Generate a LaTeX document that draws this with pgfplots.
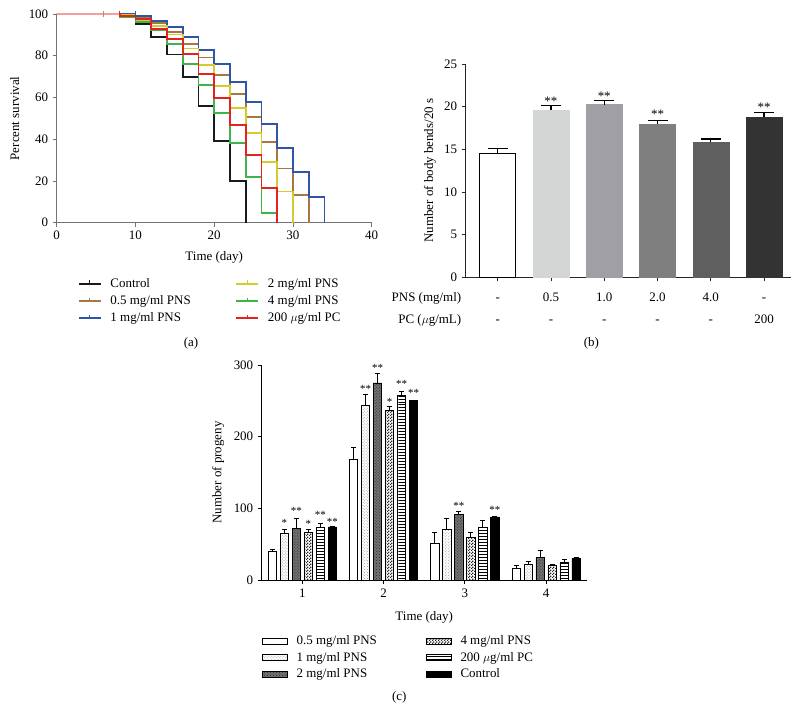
\documentclass[border=0pt]{standalone}
\usepackage{fontspec}
\setmainfont{Liberation Serif}
\usepackage{pgfplots}
\pgfplotsset{compat=1.18}
\usetikzlibrary{patterns}
\AtBeginDocument{\fontsize{13}{15.6}\selectfont}

\definecolor{cBlack}{HTML}{1A1A1A}
\definecolor{cBrown}{HTML}{A8763E}
\definecolor{cBlue}{HTML}{2F56A6}
\definecolor{cYellow}{HTML}{D2CC2C}
\definecolor{cGreen}{HTML}{3DB54A}
\definecolor{cRed}{HTML}{E42320}
\definecolor{cPink}{HTML}{F0A0A0}
\definecolor{bA}{HTML}{D4D5D5}
\definecolor{bB}{HTML}{A0A0A4}
\definecolor{bC}{HTML}{7F7F7F}
\definecolor{bD}{HTML}{5F5F5F}
\definecolor{bE}{HTML}{333333}

\pgfdeclarepatternformonly{finecheck}{\pgfpointorigin}{\pgfqpoint{3bp}{3bp}}{\pgfqpoint{3bp}{3bp}}{%
  \pgfpathrectangle{\pgfpointorigin}{\pgfqpoint{1.5bp}{1.5bp}}%
  \pgfpathrectangle{\pgfqpoint{1.5bp}{1.5bp}}{\pgfqpoint{1.5bp}{1.5bp}}%
  \pgfusepath{fill}}

\pgfplotsset{
  base/.style={scale only axis, anchor=south west, axis lines*=left,
    tick align=outside, major tick length=4bp,
    /pgf/number format/assume math mode=true, clip=false,
    every axis y label/.style={rotate=90, anchor=center},
    every axis x label/.style={anchor=center}},
}

\begin{document}
\begin{tikzpicture}
\useasboundingbox (0,0) rectangle (799bp,725bp);

% ---------------- (a) survival ----------------
\begin{axis}[base, at={(56.7bp,502.3bp)}, width=315bp, height=208.7bp,
  xmin=0, xmax=40, ymin=0, ymax=100,
  xtick={0,10,20,30,40}, ytick={0,20,40,60,80,100},
  axis line style={draw=black!55, line width=0.9pt},
  tick style={black!55, line width=0.9pt},
  xlabel={Time (day)}, ylabel={Percent survival},
  x label style={at={(axis description cs:0.5,-0.1675)}},
  y label style={at={(axis description cs:-0.133,0.5)}},
  legend columns=3, transpose legend,
  legend style={draw=none, fill=none, at={(axis description cs:0.067,-0.266)},
    anchor=north west, inner sep=0pt, row sep=6.2bp, column sep=0bp,
    nodes={inner sep=0pt}, cells={anchor=west}},
  legend image code/.code={\draw[#1,line width=1.5pt] (0bp,0bp) -- (22bp,0bp);
    \draw[#1,line width=1pt] (11bp,0bp) -- (11bp,3.5bp);}]
\addplot[cBlack, const plot, line width=1.8bp] coordinates {(0,100)(8,98.7)(10,95.3)(12,88.8)(14,80.6)(16,70)(18,55.9)(20,39.3)(22,19.8)(24,0)};
\addlegendentry{\hspace*{9bp}\makebox[125bp][l]{Control}}
\addplot[cBrown, const plot, line width=1.8bp] coordinates {(0,100)(10,98.7)(12,95.8)(14,91.5)(16,85.5)(18,79.2)(20,70.6)(22,61.5)(24,50.8)(26,38.8)(28,26)(30,13.3)(32,0)};
\addlegendentry{\hspace*{9bp}\makebox[125bp][l]{0.5 mg/ml PNS}}
\addplot[cBlue, const plot, line width=1.8bp] coordinates {(0,100)(10,99.2)(12,96.8)(14,93.9)(16,88.8)(18,82.7)(20,75.9)(22,67.6)(24,58)(26,47.3)(28,35.6)(30,24.4)(32,12.2)(34,0)};
\addlegendentry{\hspace*{9bp}\makebox[125bp][l]{1 mg/ml PNS}}
\addplot[cYellow, const plot, line width=1.8bp] coordinates {(0,100)(8,99.5)(10,97.1)(12,94.2)(14,90.2)(16,83.5)(18,75.5)(20,65.5)(22,55.1)(24,43.1)(26,29.2)(28,14.9)(30,0)};
\addlegendentry{\hspace*{9bp}2 mg/ml PNS}
\addplot[cGreen, const plot, line width=1.8bp] coordinates {(0,100)(8,98.5)(10,96)(12,92.3)(14,85.5)(16,76)(18,66)(20,52.4)(22,38)(24,22)(26,4.5)(28,0)};
\addlegendentry{\hspace*{9bp}4 mg/ml PNS}
\addplot[cRed, const plot, line width=1.8bp] coordinates {(0,100)(8,99)(10,97.5)(12,93)(14,87.9)(16,80.7)(18,71.2)(20,59.9)(22,46.8)(24,32.4)(26,16.5)(28,0)};
\addlegendentry{\hspace*{9bp}200 $\mu$g/ml PC}
\addplot[cPink, forget plot, line width=1.8bp] coordinates {(0,100)(8,100)};
\addplot[only marks, mark=|, mark size=3bp, cBrown!60!cPink, forget plot, mark options={line width=1bp}] coordinates {(6,100)};
\addplot[only marks, mark=|, mark size=3bp, cRed, forget plot, mark options={line width=1bp}] coordinates {(8,100)};
\addplot[only marks, mark=|, mark size=3bp, cBlue, forget plot, mark options={line width=1bp}] coordinates {(10,100)};
\end{axis}
\node at (191bp,382bp) {(a)};

% ---------------- (b) body bends ----------------
\begin{axis}[base, at={(465.7bp,447.7bp)}, width=325bp, height=213.3bp,
  xmin=-0.6, xmax=5.5, ymin=0, ymax=25,
  ytick={0,5,10,15,20,25}, xtick={0,1,2,3,4,5},
  xticklabels={-,0.5,1.0,2.0,4.0,-},
  xticklabel style={text height=9bp, text depth=0pt, yshift=-7bp},
  axis line style={draw=black!85, line width=0.9pt},
  tick style={black!85, line width=0.9pt},
  ylabel={Number of body bends/20 s},
  y label style={at={(axis description cs:-0.11,0.5)}},
  ybar, bar width=36bp, bar shift=0bp,
  error bars/y dir=plus, error bars/y explicit,
  error bars/error mark options={rotate=90, mark size=10bp, line width=1.2bp, black},
  error bars/error bar style={line width=1.2bp, black}]
\addplot[fill=white, draw=black, line width=1bp] coordinates {(0,14.5) +- (0,0.6)};
\addplot[fill=bA, draw=bA] coordinates {(1,19.57) +- (0,0.55)};
\addplot[fill=bB, draw=bB] coordinates {(2,20.23) +- (0,0.5)};
\addplot[fill=bC, draw=bC] coordinates {(3,18.0) +- (0,0.4)};
\addplot[fill=bD, draw=bD] coordinates {(4,15.8) +- (0,0.42)};
\addplot[fill=bE, draw=bE] coordinates {(5,18.75) +- (0,0.58)};
\node[anchor=base] at (axis cs:1,20.11) {**};
\node[anchor=base] at (axis cs:2,20.77) {**};
\node[anchor=base] at (axis cs:3,18.66) {**};
\node[anchor=base] at (axis cs:5,19.44) {**};
\node[anchor=base east] at (axis cs:-0.6,-2.86) {PNS (mg/ml)};
\node[anchor=base east] at (axis cs:-0.6,-5.39) {PC ($\mu$g/mL)};
\node[anchor=base] at (axis cs:0,-5.39) {-};
\node[anchor=base] at (axis cs:1,-5.39) {-};
\node[anchor=base] at (axis cs:2,-5.39) {-};
\node[anchor=base] at (axis cs:3,-5.39) {-};
\node[anchor=base] at (axis cs:4,-5.39) {-};
\node[anchor=base] at (axis cs:5,-5.39) {200};
\end{axis}
\node at (591.3bp,382bp) {(b)};

% ---------------- (c) progeny ----------------
\begin{axis}[base, at={(261.7bp,145bp)}, width=325bp, height=215bp,
  xmin=0.5, xmax=4.5, ymin=0, ymax=300,
  ytick={0,100,200,300}, xtick={1,2,3,4},
  axis line style={draw=black, line width=0.9pt},
  tick style={black, line width=0.9pt},
  xlabel={Time (day)}, ylabel={Number of progeny},
  x label style={at={(axis description cs:0.5,-0.175)}},
  y label style={at={(axis description cs:-0.1335,0.5)}},
  ybar, bar width=8.3bp,
  error bars/y dir=plus, error bars/y explicit,
  error bars/error mark options={rotate=90, mark size=2.5bp, line width=1bp, black},
  error bars/error bar style={line width=1bp, black, solid},
  legend columns=3, transpose legend,
  legend style={draw=none, fill=none, at={(axis description cs:0,-0.259)},
    anchor=north west, inner sep=0pt, row sep=5.5bp, column sep=0bp,
    nodes={inner sep=0pt}, cells={anchor=west}},
  legend image code/.code={\draw[#1] (0bp,-3bp) rectangle (25bp,3bp);}]
\addplot[fill=white, draw=black, line width=0.8bp, bar shift=-30bp] coordinates {(1,39.5) +- (0,3.5) (2,168) +- (0,17) (3,51) +- (0,15.5) (4,16) +- (0,4)};
\addlegendentry{\hspace*{9bp}\makebox[129bp][l]{0.5 mg/ml PNS}}
\addplot[draw=black, line width=0.8bp, pattern=crosshatch dots, pattern color=gray!80, bar shift=-18bp] coordinates {(1,65) +- (0,6) (2,244) +- (0,15) (3,70) +- (0,16) (4,22) +- (0,3.5)};
\addlegendentry{\hspace*{9bp}\makebox[129bp][l]{1 mg/ml PNS}}
\addplot[draw=black, line width=0.8bp, fill=black!55, postaction={pattern=crosshatch dots, pattern color=black!85}, bar shift=-6bp] coordinates {(1,72) +- (0,14) (2,275) +- (0,13) (3,92) +- (0,4) (4,31) +- (0,10)};
\addlegendentry{\hspace*{9bp}\makebox[129bp][l]{2 mg/ml PNS}}
\addplot[draw=black, line width=0.8bp, pattern=finecheck, pattern color=black!85, bar shift=6bp] coordinates {(1,66) +- (0,5) (2,236) +- (0,6) (3,60) +- (0,6) (4,20.5) +- (0,1.5)};
\addlegendentry{\hspace*{9bp}4 mg/ml PNS}
\addplot[draw=black, line width=0.8bp, pattern=horizontal lines, bar shift=18bp] coordinates {(1,73) +- (0,6) (2,258) +- (0,5) (3,74) +- (0,9) (4,24) +- (0,4)};
\addlegendentry{\hspace*{9bp}200 $\mu$g/ml PC}
\addplot[draw=black, fill=black, line width=0.8bp, bar shift=30bp] coordinates {(1,74) +- (0,1) (2,250) +- (0,1) (3,88) +- (0,1) (4,30) +- (0,1)};
\addlegendentry{\hspace*{9bp}Control}
\begin{scope}[font=\fontsize{11}{13}\selectfont]
\node[anchor=base] at (axis cs:0.779,74.6) {*};
\node[anchor=base] at (axis cs:0.926,90.9) {**};
\node[anchor=base] at (axis cs:1.074,73.7) {*};
\node[anchor=base] at (axis cs:1.221,86.3) {**};
\node[anchor=base] at (axis cs:1.369,76) {**};
\node[anchor=base] at (axis cs:1.779,262.1) {**};
\node[anchor=base] at (axis cs:1.926,290.9) {**};
\node[anchor=base] at (axis cs:2.074,242.8) {*};
\node[anchor=base] at (axis cs:2.221,268.3) {**};
\node[anchor=base] at (axis cs:2.369,256) {**};
\node[anchor=base] at (axis cs:2.926,98.3) {**};
\node[anchor=base] at (axis cs:3.369,93.2) {**};
\end{scope}
\end{axis}
\node at (399.3bp,27.7bp) {(c)};
\end{tikzpicture}
\end{document}
